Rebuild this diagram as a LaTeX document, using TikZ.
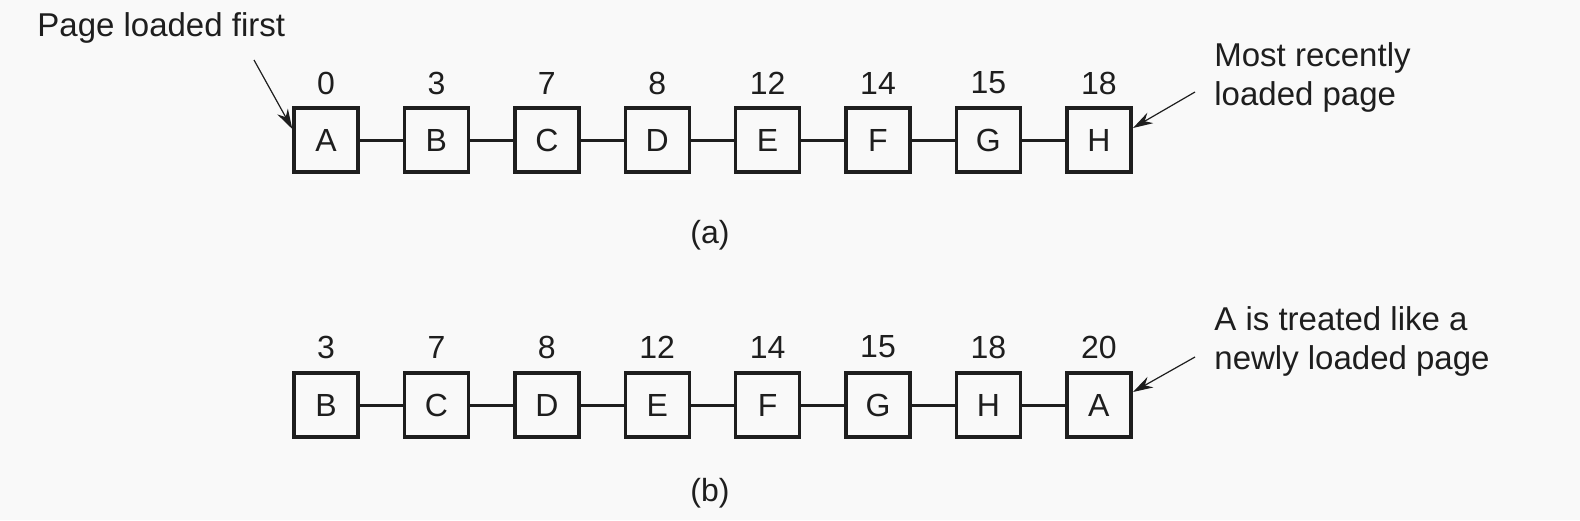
\documentclass[tikz,border=0pt]{standalone}
\usepackage{fontspec}
\setmainfont{Liberation Sans}
\usetikzlibrary{arrows.meta}
\definecolor{bg}{HTML}{F9F9F9}
\definecolor{ink}{HTML}{1E1E1E}
\begin{document}
\begin{tikzpicture}[x=0.5pt,y=-0.5pt,
  pagebox/.style={draw=ink,line width=1.7pt,minimum size=32pt,inner sep=0pt,text=ink,font=\fontsize{16}{18}\selectfont},
  numlabel/.style={text=ink,font=\fontsize{16}{18}\selectfont,inner sep=0pt},
  note/.style={text=ink,font=\fontsize{16.5}{19.5}\selectfont,inner sep=0pt,align=left},
  link/.style={draw=ink,line width=1.5pt},
  pointer/.style={draw=ink,line width=0.6pt,-{Stealth[length=10pt,width=6pt]}}]
\fill[bg] (0,0) rectangle (1580,520);
\useasboundingbox (0,0) rectangle (1580,520);
% row (a)
\foreach \L/\N [count=\i from 0] in {A/0,B/3,C/7,D/8,E/12,F/14,G/15,H/18} {
  \node[pagebox] (a\i) at ({326+110.4*\i},140) {\L};
  \node[numlabel] (an\i) at ({326+110.4*\i},83) {\N};
}
\foreach \i [evaluate=\i as \j using int(\i+1)] in {0,...,6} \draw[link] (a\i) -- (a\j);
\node[numlabel] (capa) at (710,235) {(a)};
\node[note,anchor=west] (first) at (37,28) {Page loaded first};
\coordinate (firstfrom) at (254,60);
\draw[pointer] (firstfrom) -- (a0.north west |- 0,129);
\node[note,anchor=west] (recent) at (1214,77) {Most recently\\loaded page};
\coordinate (recentfrom) at (1195,92);
\draw[pointer] (recentfrom) -- (1133,128);
% row (b)
\foreach \L/\N [count=\i from 0] in {B/3,C/7,D/8,E/12,F/14,G/15,H/18,A/20} {
  \node[pagebox] (b\i) at ({326+110.4*\i},405) {\L};
  \node[numlabel] (bn\i) at ({326+110.4*\i},347) {\N};
}
\foreach \i [evaluate=\i as \j using int(\i+1)] in {0,...,6} \draw[link] (b\i) -- (b\j);
\node[numlabel] (capb) at (710,493) {(b)};
\node[note,anchor=west] (newly) at (1214,341) {A is treated like a\\newly loaded page};
\coordinate (newlyfrom) at (1195,357);
\draw[pointer] (newlyfrom) -- (1133,392);
\end{tikzpicture}
\end{document}
